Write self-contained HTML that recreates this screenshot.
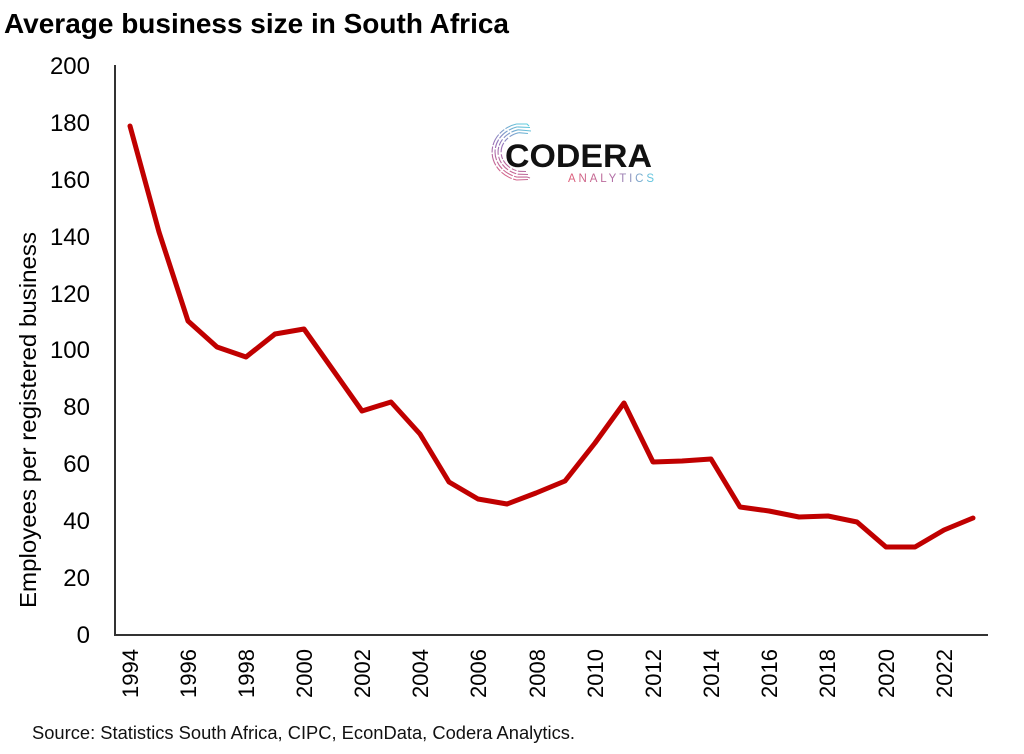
<!DOCTYPE html>
<html>
<head>
<meta charset="utf-8">
<style>
html,body{margin:0;padding:0;background:#fff;}
svg{display:block;}
text{font-family:"Liberation Sans",sans-serif;}
</style>
</head>
<body>
<svg width="1024" height="754" viewBox="0 0 1024 754" xmlns="http://www.w3.org/2000/svg">
<defs>
<linearGradient id="lg" gradientUnits="userSpaceOnUse" x1="568" y1="0" x2="653" y2="0">
<stop offset="0" stop-color="#e0607a"/>
<stop offset="0.55" stop-color="#b070a8"/>
<stop offset="1" stop-color="#60c8e0"/>
</linearGradient>
<linearGradient id="ag" gradientUnits="userSpaceOnUse" x1="500" y1="182" x2="528" y2="124">
<stop offset="0" stop-color="#e8607a"/>
<stop offset="0.5" stop-color="#9a70b8"/>
<stop offset="1" stop-color="#5cd0e0"/>
</linearGradient>
</defs>
<rect width="1024" height="754" fill="#fff"/>

<!-- Title -->
<text x="4" y="33" font-size="28" font-weight="bold" fill="#000" textLength="505" lengthAdjust="spacingAndGlyphs">Average business size in South Africa</text>

<!-- Axes -->
<line x1="115" y1="65" x2="115" y2="635" stroke="#333" stroke-width="2"/>
<line x1="114" y1="635" x2="988" y2="635" stroke="#333" stroke-width="2"/>

<!-- Y tick labels -->
<g font-size="24" fill="#000" text-anchor="end">
<text x="90" y="74">200</text>
<text x="90" y="131">180</text>
<text x="90" y="188">160</text>
<text x="90" y="245">140</text>
<text x="90" y="302">120</text>
<text x="90" y="358">100</text>
<text x="90" y="415">80</text>
<text x="90" y="472">60</text>
<text x="90" y="529">40</text>
<text x="90" y="586">20</text>
<text x="90" y="643">0</text>
</g>

<!-- Y axis title -->
<text transform="translate(36,608) rotate(-90)" font-size="23" fill="#000" textLength="376" lengthAdjust="spacingAndGlyphs">Employees per registered business</text>

<!-- X tick labels -->
<g font-size="22" fill="#000" text-anchor="end">
<text transform="translate(138,649) rotate(-90)">1994</text>
<text transform="translate(196,649) rotate(-90)">1996</text>
<text transform="translate(254,649) rotate(-90)">1998</text>
<text transform="translate(312,649) rotate(-90)">2000</text>
<text transform="translate(370,649) rotate(-90)">2002</text>
<text transform="translate(428,649) rotate(-90)">2004</text>
<text transform="translate(486,649) rotate(-90)">2006</text>
<text transform="translate(545,649) rotate(-90)">2008</text>
<text transform="translate(603,649) rotate(-90)">2010</text>
<text transform="translate(661,649) rotate(-90)">2012</text>
<text transform="translate(719,649) rotate(-90)">2014</text>
<text transform="translate(777,649) rotate(-90)">2016</text>
<text transform="translate(835,649) rotate(-90)">2018</text>
<text transform="translate(894,649) rotate(-90)">2020</text>
<text transform="translate(952,649) rotate(-90)">2022</text>
</g>

<!-- Series -->
<polyline fill="none" stroke="#c00000" stroke-width="5" stroke-linejoin="round" stroke-linecap="round"
points="130,126 159,232 188,321 217,347 246,357 275,334 304,329 333,370 362,411 391,402 420,434 449,482 478,499 507,504 536,493 565,481 595,443 624,403 653,462 682,461 711,459 740,507 769,511 799,517 828,516 857,522 886,547 915,547 944,530 973,518"/>

<!-- Logo arcs -->
<g fill="none" stroke="url(#ag)" stroke-width="1.1">
<path d="M 516.5 124 A 33 29 0 0 0 516.5 180" stroke-dasharray="12 1.5 6 1.5"/>
<path d="M 517.2 126.9 A 30 26 0 0 0 517.2 177.1" stroke-dasharray="9 1.5 11 1.5"/>
<path d="M 518 129.8 A 27 23 0 0 0 518 174.2" stroke-dasharray="7 1.5 8 2"/>
<path d="M 518.8 132.7 A 24 20 0 0 0 518.8 171.3" stroke-dasharray="10 2 5 1.5"/>
<path d="M 516.5 124 L 527 124 L 529 126"/>
<path d="M 517.2 126.9 L 530 127.5"/>
<path d="M 518 129.8 L 526 130.5 L 531 131"/>
<path d="M 518.8 132.7 L 528 133.5"/>
<path d="M 516.5 180 L 528 179.5"/>
<path d="M 517.2 177.1 L 527 177 L 530 178"/>
<path d="M 518 174.2 L 528 174.5"/>
<path d="M 518.8 171.3 L 526 171.5"/>
</g>
<text x="505" y="167" font-size="32" font-weight="bold" fill="#111" textLength="147" lengthAdjust="spacingAndGlyphs">CODERA</text>
<text x="568" y="182" font-size="11.5" fill="url(#lg)" textLength="86" lengthAdjust="spacing">ANALYTICS</text>

<!-- Source -->
<text x="32" y="739" font-size="18" fill="#111" textLength="543" lengthAdjust="spacingAndGlyphs">Source: Statistics South Africa, CIPC, EconData, Codera Analytics.</text>
</svg>
</body>
</html>
